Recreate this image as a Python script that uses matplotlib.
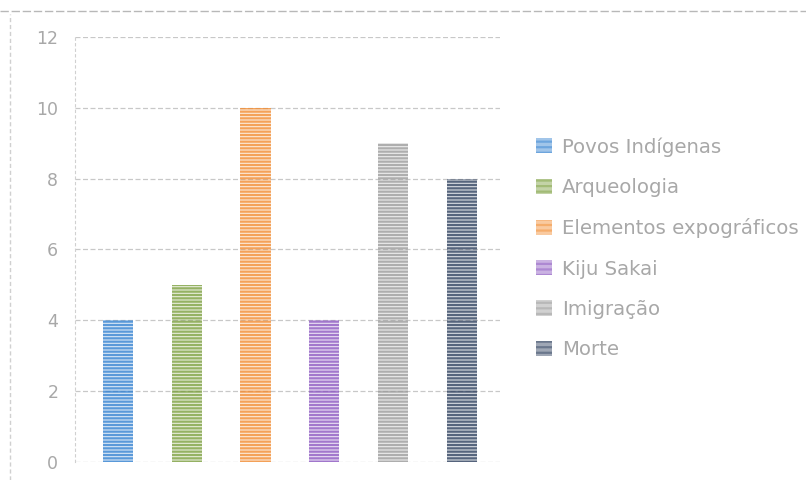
import matplotlib.pyplot as plt
from matplotlib.patches import Patch

categorias = ["Povos Indígenas", "Arqueologia", "Elementos expográficos",
              "Kiju Sakai", "Imigração", "Morte"]
valores = [4, 5, 10, 4, 9, 8]
cores = ["#2f7fd0", "#7a9e3c", "#f28a2e", "#8a55c0", "#9a9a9a", "#2b3d5c"]
yticks = [0, 2, 4, 6, 8, 10, 12]

plt.rcParams["hatch.linewidth"] = 1.6

fig = plt.figure(figsize=(8.06, 4.8), dpi=100)
ax = fig.add_axes([0.093, 0.0375, 0.527, 0.8855])

x = list(range(len(categorias)))
for xi, v, c in zip(x, valores, cores):
    ax.bar(xi, v, width=0.44, color=c, alpha=0.18, linewidth=0, zorder=2)
    ax.bar(xi, v, width=0.44, facecolor="none", edgecolor=c, hatch="-----",
           linewidth=0, alpha=0.75, zorder=3)

ax.set_xlim(-0.625, 5.55)
ax.set_ylim(0, 12)
ax.set_yticks(yticks)
ax.set_yticklabels([str(t) for t in yticks], color="#a8a8a8", fontsize=12.5)
ax.set_xticks([])
ax.tick_params(axis="y", length=0, pad=12)
ax.grid(axis="y", color="#c8c8c8", linestyle=(0, (4, 2)), linewidth=0.9, zorder=0)
for s in ["top", "right", "bottom"]:
    ax.spines[s].set_visible(False)
ax.spines["left"].set_color("#d0d0d0")
ax.spines["left"].set_linestyle((0, (2, 3)))

handles = [Patch(facecolor=c, alpha=0.45, edgecolor=c, hatch="---", linewidth=0)
           for c in cores]
fig.legend(handles, categorias, loc="center left", bbox_to_anchor=(0.643, 0.483),
           frameon=False, fontsize=14.2, labelcolor="#a8a8a8",
           handlelength=0.8, handleheight=0.8, handletextpad=0.5,
           labelspacing=1.08)

# faint frame lines along the top and left edges
fig.add_artist(plt.Line2D([0.0, 1.0], [0.978, 0.978], transform=fig.transFigure,
                          color="#b8b8b8", linestyle=(0, (6, 2)), linewidth=1.0))
fig.add_artist(plt.Line2D([0.013, 0.013], [0.0, 0.97], transform=fig.transFigure,
                          color="#d0d0d0", linestyle=(0, (3, 2)), linewidth=1.0))

fig.savefig("out.png", dpi=100)
